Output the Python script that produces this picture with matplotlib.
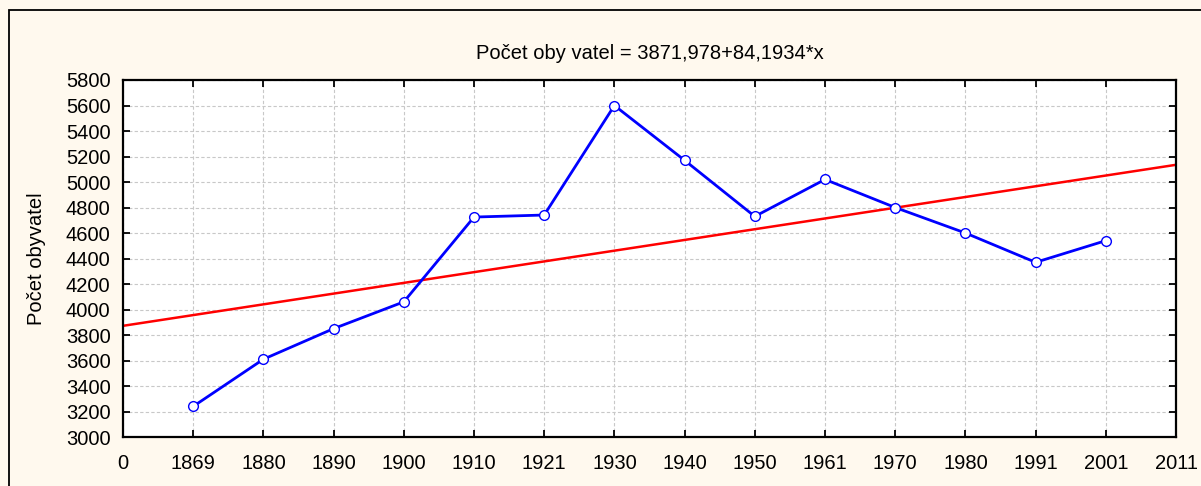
import matplotlib.pyplot as plt
import numpy as np
from matplotlib.patches import Rectangle

plt.rcParams['font.family'] = ['Liberation Sans', 'DejaVu Sans']

# data
tick_labels = ["0", "1869", "1880", "1890", "1900", "1910", "1921", "1930",
               "1940", "1950", "1961", "1970", "1980", "1991", "2001", "2011"]
years = ["1869", "1880", "1890", "1900", "1910", "1921", "1930",
         "1940", "1950", "1961", "1970", "1980", "1991", "2001"]
population = [3240, 3610, 3850, 4060, 4725, 4741, 5600,
              5170, 4730, 5020, 4800, 4600, 4370, 4540]
intercept = 3871.978
slope = 84.1934

fig = plt.figure(figsize=(12.01, 4.86), dpi=100)
fig.patch.set_facecolor('#fff9ee')
fig.patches.append(Rectangle((9 / 1201, -0.05), 1.1, 1.05 - 10 / 486,
                             transform=fig.transFigure, fill=False,
                             edgecolor='black', linewidth=1.3))

ax = fig.add_axes([123 / 1201, 1 - 437 / 486, (1176 - 123) / 1201, (437 - 80) / 486])
ax.set_facecolor('white')

pos = np.arange(1, len(years) + 1)
ax.plot(pos, population, color='#0000ff', linewidth=2, marker='o',
        markersize=7, markerfacecolor='white', markeredgecolor='#0000ff',
        markeredgewidth=1.0, zorder=3)

xl = np.array([0, 15])
ax.plot(xl, intercept + slope * xl, color='#ff0000', linewidth=1.8, zorder=2)

ax.set_xlim(0, 15)
ax.set_ylim(3000, 5800)
ax.set_xticks(np.arange(len(tick_labels)))
ax.set_xticklabels(tick_labels)
ax.set_yticks(np.arange(3000, 5801, 200))

ax.grid(True, color='#c8c8c8', linestyle=(0, (3, 2)), linewidth=0.8)
ax.tick_params(direction='in', top=True, right=True, length=5, width=1.3,
               labelsize=14.5)
ax.tick_params(axis='y', pad=9)
ax.tick_params(axis='x', pad=12)
for s in ax.spines.values():
    s.set_linewidth(1.6)

ax.set_title("Počet oby vatel = 3871,978+84,1934*x", fontsize=14.5, pad=15)
ax.set_ylabel("Počet obyvatel", fontsize=14.5)
ax.yaxis.set_label_coords(-0.073, 0.5)

fig.savefig("out.png", dpi=100, facecolor=fig.get_facecolor())
